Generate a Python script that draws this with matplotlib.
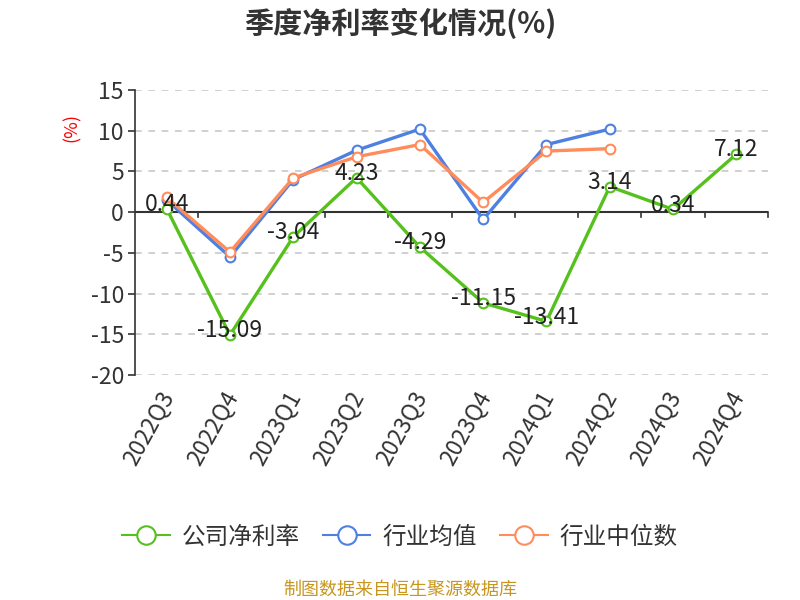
import numpy as np
import matplotlib
matplotlib.use("Agg")
import matplotlib.pyplot as plt
import matplotlib.transforms as mtransforms

plt.rcParams['font.family'] = ['Noto Sans CJK SC', 'DejaVu Sans']
plt.rcParams['axes.unicode_minus'] = False

quarters = ["2022Q3", "2022Q4", "2023Q1", "2023Q2", "2023Q3",
            "2023Q4", "2024Q1", "2024Q2", "2024Q3", "2024Q4"]
company = [0.44, -15.09, -3.04, 4.23, -4.29, -11.15, -13.41, 3.14, 0.34, 7.12]
industry_avg = [1.5, -5.5, 4.0, 7.6, 10.2, -0.9, 8.3, 10.2]
industry_median = [1.8, -4.9, 4.2, 6.8, 8.3, 1.2, 7.5, 7.8]

green = "#56c11d"
blue = "#4e80e2"
orange = "#ff8c5a"

fig = plt.figure(figsize=(8, 6), dpi=100)
ax = fig.add_axes([135/800, 1-375/600, (768-135)/800, (375-90)/600])

x = np.arange(len(quarters))
mk = dict(marker='o', markersize=7, markerfacecolor='white', markeredgewidth=1.5, linewidth=2.4)
ax.plot(x[:len(industry_avg)], industry_avg, color=blue, markeredgecolor=blue, zorder=3, label="行业均值", **mk)
ax.plot(x[:len(industry_median)], industry_median, color=orange, markeredgecolor=orange, zorder=4, label="行业中位数", **mk)
ax.plot(x, company, color=green, markeredgecolor=green, zorder=5, label="公司净利率", **mk)

for xi, v in zip(x, company):
    ax.annotate(f"{v:.2f}", (xi, v), xytext=(0, 3), textcoords='offset points',
                ha='center', va='center', fontsize=16.5, color='#222222', zorder=6)

ax.set_xlim(-0.5, len(quarters) - 0.5)
ax.set_ylim(-20, 15)
ax.set_yticks(np.arange(-20, 16, 5))
ax.tick_params(axis='y', labelsize=16.5, colors='#333333', length=5, width=1.2, pad=3)
ax.grid(axis='y', linestyle=(0, (4, 4)), color='#c8c8c8', linewidth=1.2)
ax.set_axisbelow(True)

for s in ['top', 'right', 'bottom']:
    ax.spines[s].set_visible(False)
ax.spines['left'].set_color('#333333')
ax.spines['left'].set_linewidth(1.2)
ax.axhline(0, color='#333333', linewidth=1.5, zorder=2)

# tick marks at category boundaries on the zero line
for b in np.arange(0.5, len(quarters), 1.0):
    ax.plot([b, b], [0, -0.6], color='#333333', linewidth=1.2, zorder=2, clip_on=False)

ax.set_xticks(x)
ax.set_xticklabels(quarters, rotation=61, ha='right', rotation_mode='anchor', fontsize=16.5, color='#333333')
ax.tick_params(axis='x', length=0, pad=9)
shift = mtransforms.ScaledTranslation(-8/100, 0, fig.dpi_scale_trans)
for lbl in ax.get_xticklabels():
    lbl.set_transform(lbl.get_transform() + shift)

fig.text(72/800, 1-128/600, "(%)", color='red', rotation=90, ha='center', va='center', fontsize=13)
fig.text(0.5, 1-23/600, "季度净利率变化情况(%)", ha='center', va='center', fontsize=21,
         fontweight='bold', color='#333333')

handles, labels = ax.get_legend_handles_labels()
order = [2, 0, 1]
leg = fig.legend([handles[i] for i in order], [labels[i] for i in order], loc='center',
                 bbox_to_anchor=(0.5, 1-537/600), ncol=3, frameon=False, fontsize=17,
                 handlelength=2.0, columnspacing=1.0, handletextpad=0.5, markerscale=1.9)
for t in leg.get_texts():
    t.set_color('#333333')
for lh in leg.get_lines():
    lh.set_linewidth(1.5)

fig.text(0.5, 1-590/600, "制图数据来自恒生聚源数据库", ha='center', va='center', fontsize=13, color='#c8961e')

fig.savefig("out.png", dpi=100)
